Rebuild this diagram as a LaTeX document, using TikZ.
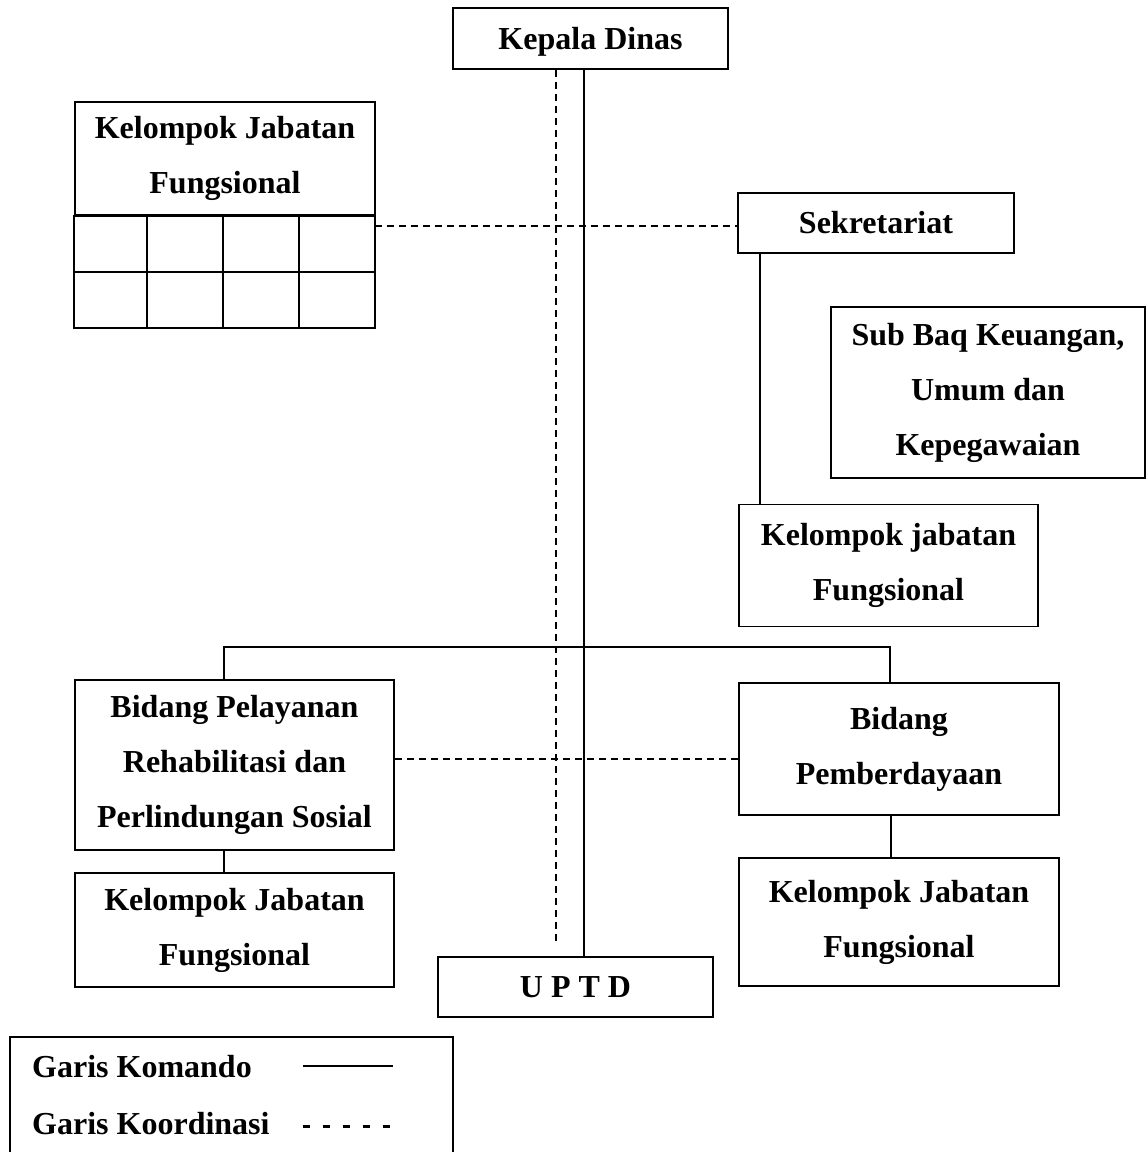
\documentclass[tikz,border=0pt]{standalone}
\usepackage{fontspec}
\setmainfont{Liberation Serif}
\begin{document}
\begin{tikzpicture}[x=1pt,y=-1pt,
  box/.style={draw, line width=1.6pt, inner sep=0pt, align=center,
    font=\fontsize{32}{55}\selectfont\bfseries},
  cmd/.style={line width=1.6pt},
  coord/.style={line width=1.4pt, dash pattern=on 7pt off 5pt},
  lbl/.style={inner sep=0pt, anchor=west, font=\fontsize{32}{37}\selectfont\bfseries}]
\useasboundingbox (0,0) rectangle (1146,1152);

% boxes
\node[box, minimum width=275pt, minimum height=61pt, text depth=0pt] (kadis) at (590.5,38.5) {Kepala Dinas};
\node[box, minimum width=300pt, minimum height=113pt] (kjf1) at (225,158.5) {Kelompok Jabatan\\Fungsional};
\node[box, minimum width=276pt, minimum height=60pt] (sekr) at (876,223) {Sekretariat};
\node[box, minimum width=314pt, minimum height=171pt] (subbaq) at (988,392.5) {Sub Baq Keuangan,\\Umum dan\\Kepegawaian};
\node[box, minimum width=299pt, minimum height=122pt] (kjf2) at (888.5,565.5) {Kelompok jabatan\\Fungsional};
\node[box, minimum width=319pt, minimum height=170pt] (bpr) at (234.5,765) {Bidang Pelayanan\\Rehabilitasi dan\\Perlindungan Sosial};
\node[box, minimum width=319pt, minimum height=114pt] (kjf3) at (234.5,930) {Kelompok Jabatan\\Fungsional};
\node[box, minimum width=320pt, minimum height=132pt] (bp) at (899,749) {Bidang\\Pemberdayaan};
\node[box, minimum width=320pt, minimum height=128pt] (kjf4) at (899,922) {Kelompok Jabatan\\Fungsional};
\node[box, minimum width=275pt, minimum height=60pt] (uptd) at (575.5,987) {U P T D};

% grid below Kelompok Jabatan Fungsional
\draw[cmd] (kjf1.south west) rectangle (375,328);
\draw[cmd] (75,272) -- (375,272);
\foreach \gx in {147,223,299} \draw[cmd] (\gx,215) -- (\gx,328);
\coordinate (g) at (375,226);

% command lines
\draw[cmd] ([xshift=-6.5pt]kadis.south) -- ([xshift=8.5pt]uptd.north);
\draw[cmd] ([xshift=-116pt]sekr.south) -- ([xshift=-116pt]sekr.south |- kjf2.north);
\draw[cmd] ([xshift=-10.5pt]bpr.north) -- ++(0,-32) -| ([xshift=-9pt]bp.north);
\draw[cmd] ([xshift=-10.5pt]bpr.south) -- ([xshift=-10.5pt]kjf3.north);
\draw[cmd] ([xshift=-8pt]bp.south) -- ([xshift=-8pt]kjf4.north);

% coordination lines
\draw[coord] ([xshift=-34.5pt]kadis.south) -- ([xshift=-19.5pt,yshift=12pt]uptd.north);
\draw[coord] (g) -- (g -| sekr.west);
\draw[coord] ([yshift=6pt]bpr.east) -- ([yshift=6pt]bpr.east -| bp.west);

% legend
\draw[line width=1.6pt] (10,1152) -- (10,1037) -- (453,1037) -- (453,1152);
\node[lbl] (lk) at (32,1067) {Garis Komando};
\node[lbl] (lo) at (32,1124) {Garis Koordinasi};
\coordinate (la) at (303,1066);
\coordinate (lb) at (393,1066);
\coordinate (lc) at (303,1126);
\coordinate (ld) at (393,1126);
\draw[line width=1.6pt] (la) -- (lb);
\draw[line width=3pt, dash pattern=on 7pt off 13pt] (lc) -- (ld);
\end{tikzpicture}
\end{document}
